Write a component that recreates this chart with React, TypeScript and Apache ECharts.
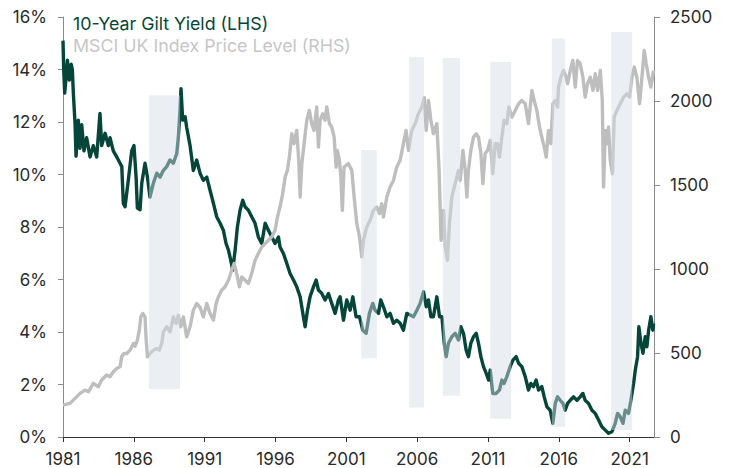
import React, { useEffect, useRef } from 'react';
import * as echarts from 'echarts';

const BASE_YEAR = 1981;
const X_MAX_YEAR = 2022.72;
const xTickYears = [1981, 1986, 1991, 1996, 2001, 2006, 2011, 2016, 2021];

const legendGilt = '10-Year Gilt Yield (LHS)';
const legendMsci = 'MSCI UK Index Price Level (RHS)';

// 10-Year Gilt Yield (%), decimal years
const giltYears = [
  1981.0, 1981.05, 1981.12, 1981.2, 1981.31, 1981.45, 1981.58, 1981.66, 1981.73, 1981.85,
  1981.92, 1982.0, 1982.08, 1982.2, 1982.32, 1982.48, 1982.67, 1982.91, 1983.14, 1983.38,
  1983.61, 1983.73, 1983.97, 1984.2, 1984.32, 1984.55, 1984.79, 1985.03, 1985.15, 1985.26,
  1985.38, 1985.61, 1985.85, 1986.01, 1986.16, 1986.25, 1986.44, 1986.56, 1986.79, 1986.96,
  1987.14, 1987.38, 1987.62, 1987.85, 1988.08, 1988.32, 1988.55, 1988.79, 1989.03, 1989.14,
  1989.26, 1989.33, 1989.45, 1989.62, 1989.73, 1989.97, 1990.2, 1990.44, 1990.68, 1990.91,
  1991.15, 1991.38, 1991.62, 1991.85, 1992.09, 1992.32, 1992.51, 1992.68, 1992.84, 1992.98,
  1993.15, 1993.31, 1993.5, 1993.69, 1993.85, 1994.09, 1994.32, 1994.56, 1994.79, 1995.03,
  1995.27, 1995.5, 1995.74, 1995.97, 1996.21, 1996.32, 1996.56, 1996.8, 1997.03, 1997.27,
  1997.5, 1997.74, 1997.97, 1998.09, 1998.26, 1998.44, 1998.68, 1998.87, 1999.03, 1999.27,
  1999.5, 1999.74, 1999.97, 2000.21, 2000.44, 2000.56, 2000.8, 2001.03, 2001.27, 2001.46,
  2001.69, 2001.93, 2002.16, 2002.4, 2002.63, 2002.87, 2003.03, 2003.27, 2003.43, 2003.62,
  2003.86, 2004.09, 2004.33, 2004.56, 2004.8, 2005.03, 2005.27, 2005.51, 2005.74, 2005.98,
  2006.21, 2006.45, 2006.64, 2006.8, 2006.97, 2007.15, 2007.39, 2007.58, 2007.75, 2007.91,
  2008.05, 2008.21, 2008.45, 2008.68, 2008.92, 2009.09, 2009.27, 2009.46, 2009.62, 2009.79,
  2009.98, 2010.17, 2010.33, 2010.5, 2010.68, 2010.87, 2011.04, 2011.16, 2011.34, 2011.58,
  2011.81, 2011.98, 2012.14, 2012.33, 2012.57, 2012.76, 2012.99, 2013.16, 2013.39, 2013.63,
  2013.86, 2014.03, 2014.21, 2014.4, 2014.57, 2014.8, 2014.97, 2015.16, 2015.39, 2015.58,
  2015.75, 2015.91, 2016.1, 2016.29, 2016.45, 2016.62, 2016.81, 2017.04, 2017.28, 2017.51,
  2017.7, 2017.86, 2018.1, 2018.34, 2018.57, 2018.81, 2019.04, 2019.28, 2019.51, 2019.75,
  2019.98, 2020.15, 2020.34, 2020.53, 2020.69, 2020.92, 2021.09, 2021.28, 2021.4, 2021.56,
  2021.65, 2021.8, 2021.94, 2022.1, 2022.22, 2022.34, 2022.5, 2022.64, 2022.69,
];
const giltYield = [
  15.1, 14.0, 13.1, 13.6, 14.35, 13.6, 14.2, 14.0, 13.1, 11.95,
  10.7, 11.3, 12.07, 11.0, 11.9, 10.9, 11.4, 10.67, 11.1, 10.67,
  12.33, 11.1, 11.57, 11.1, 11.4, 10.9, 10.67, 10.43, 10.3, 8.9,
  8.77, 9.78, 10.9, 11.1, 9.9, 8.72, 8.66, 9.67, 10.43, 9.9,
  9.14, 9.67, 10.05, 9.9, 10.15, 10.3, 10.55, 10.43, 10.8, 11.4,
  12.45, 13.27, 12.07, 12.2, 11.8, 11.1, 10.15, 10.55, 10.04, 9.78,
  9.9, 9.4, 8.9, 8.39, 8.14, 7.88, 7.37, 7.12, 6.74, 6.36,
  7.12, 8.0, 8.64, 9.02, 8.77, 8.64, 8.39, 8.14, 7.62, 7.37,
  8.14, 7.88, 7.62, 7.37, 7.62, 7.24, 6.99, 6.61, 6.23, 5.98,
  5.72, 5.34, 4.58, 4.2, 4.83, 5.34, 5.72, 5.98, 5.6, 5.47,
  5.22, 5.47, 5.09, 4.71, 5.22, 5.34, 4.45, 5.22, 4.83, 5.34,
  4.58, 4.58, 4.07, 3.95, 4.71, 5.09, 4.83, 4.71, 5.22, 4.96,
  4.58, 4.71, 4.33, 4.45, 4.33, 4.07, 4.71, 4.65, 4.58, 4.83,
  5.09, 5.53, 4.96, 5.22, 4.58, 4.58, 5.34, 4.58, 4.58, 3.57,
  3.06, 3.57, 3.82, 3.95, 3.7, 4.2, 3.95, 3.31, 3.06, 3.57,
  3.82, 3.95, 3.57, 3.06, 2.68, 2.43, 2.17, 2.55, 1.66, 1.66,
  1.79, 2.17, 2.04, 2.3, 2.68, 2.93, 3.06, 2.81, 2.68, 2.3,
  1.79, 2.04, 1.92, 2.17, 1.79, 1.92, 1.53, 1.15, 1.02, 0.52,
  1.28, 1.53, 1.4, 1.28, 1.02, 1.28, 1.4, 1.53, 1.4, 1.53,
  1.66, 1.4, 1.28, 1.02, 0.9, 0.65, 0.39, 0.26, 0.14, 0.2,
  0.52, 0.9, 0.77, 0.52, 1.02, 0.9, 1.4, 2.04, 2.55, 3.06,
  4.2, 3.57, 3.19, 3.82, 3.44, 4.07, 4.58, 4.07, 4.33,
];

// MSCI UK Index price level, decimal years
const msciYears = [
  1981.0, 1981.49, 1981.85, 1982.2, 1982.55, 1982.79, 1983.14, 1983.5, 1983.73, 1984.08,
  1984.32, 1984.55, 1984.79, 1985.03, 1985.14, 1985.31, 1985.5, 1985.73, 1985.97, 1986.08,
  1986.25, 1986.39, 1986.49, 1986.63, 1986.79, 1986.86, 1986.96, 1987.14, 1987.38, 1987.61,
  1987.8, 1987.97, 1988.09, 1988.32, 1988.56, 1988.79, 1988.98, 1989.14, 1989.31, 1989.5,
  1989.73, 1989.97, 1990.2, 1990.44, 1990.68, 1990.91, 1991.15, 1991.38, 1991.62, 1991.81,
  1991.97, 1992.2, 1992.44, 1992.68, 1992.91, 1993.08, 1993.26, 1993.45, 1993.62, 1993.85,
  1994.09, 1994.32, 1994.56, 1994.79, 1995.03, 1995.27, 1995.5, 1995.74, 1995.97, 1996.14,
  1996.32, 1996.51, 1996.68, 1996.84, 1996.98, 1997.15, 1997.31, 1997.5, 1997.64, 1997.74,
  1997.86, 1998.02, 1998.21, 1998.39, 1998.56, 1998.72, 1998.91, 1999.03, 1999.15, 1999.33,
  1999.5, 1999.62, 1999.81, 1999.97, 2000.14, 2000.28, 2000.37, 2000.51, 2000.62, 2000.72,
  2000.84, 2001.15, 2001.39, 2001.55, 2001.74, 2001.93, 2002.09, 2002.21, 2002.44, 2002.68,
  2002.91, 2003.15, 2003.34, 2003.5, 2003.62, 2003.86, 2004.09, 2004.33, 2004.56, 2004.8,
  2005.03, 2005.22, 2005.39, 2005.62, 2005.86, 2006.09, 2006.33, 2006.5, 2006.64, 2006.8,
  2006.97, 2007.15, 2007.39, 2007.55, 2007.69, 2007.86, 2007.98, 2008.14, 2008.28, 2008.45,
  2008.68, 2008.92, 2009.04, 2009.23, 2009.39, 2009.51, 2009.62, 2009.79, 2009.98, 2010.17,
  2010.33, 2010.5, 2010.64, 2010.8, 2010.97, 2011.16, 2011.34, 2011.51, 2011.67, 2011.81,
  2011.98, 2012.14, 2012.33, 2012.47, 2012.69, 2012.92, 2013.16, 2013.39, 2013.63, 2013.86,
  2014.1, 2014.26, 2014.45, 2014.64, 2014.8, 2014.97, 2015.11, 2015.27, 2015.44, 2015.58,
  2015.75, 2015.91, 2015.98, 2016.15, 2016.33, 2016.52, 2016.62, 2016.81, 2016.99, 2017.16,
  2017.32, 2017.51, 2017.7, 2017.86, 2018.03, 2018.22, 2018.41, 2018.57, 2018.74, 2018.93,
  2019.07, 2019.16, 2019.28, 2019.4, 2019.51, 2019.63, 2019.79, 2019.91, 2020.1, 2020.34,
  2020.57, 2020.81, 2021.0, 2021.16, 2021.33, 2021.51, 2021.7, 2021.87, 2022.03, 2022.17,
  2022.34, 2022.5, 2022.69,
];
const msciLevel = [
  190, 200, 230, 260, 279, 269, 319, 299, 339, 369,
  359, 388, 408, 418, 477, 497, 497, 517, 557, 540,
  577, 636, 715, 735, 715, 596, 477, 497, 517, 527,
  517, 557, 626, 656, 626, 715, 676, 725, 656, 715,
  596, 656, 755, 795, 770, 715, 795, 735, 696, 795,
  834, 874, 894, 933, 993, 1033, 973, 894, 953, 933,
  914, 973, 1052, 1092, 1131, 1151, 1171, 1191, 1231, 1310,
  1369, 1449, 1547, 1587, 1666, 1805, 1746, 1825, 1647, 1429,
  1627, 1746, 1885, 1944, 1865, 1825, 1964, 1726, 1885, 1924,
  1885, 1964, 1865, 1845, 1785, 1607, 1706, 1647, 1547, 1349,
  1607, 1627, 1587, 1429, 1270, 1191, 1072, 1171, 1250, 1290,
  1349, 1369, 1330, 1389, 1310, 1429, 1488, 1527, 1607, 1647,
  1746, 1825, 1706, 1825, 1865, 1924, 1964, 2020, 1825, 2003,
  1885, 1805, 1865, 1587, 1171, 1349, 1131, 1052, 1270, 1429,
  1508, 1587, 1527, 1706, 1587, 1429, 1587, 1706, 1785, 1805,
  1785, 1687, 1508, 1687, 1706, 1765, 1567, 1746, 1746, 1666,
  1785, 1885, 1865, 1964, 1904, 1944, 1984, 2003, 1984, 1865,
  2063, 2003, 1944, 1845, 1785, 1726, 1666, 1825, 1746, 1984,
  2003, 1964, 2083, 2142, 2182, 2142, 2103, 2182, 2241, 2083,
  2241, 2222, 2142, 2023, 2103, 2142, 2063, 2162, 2063, 2182,
  2003, 1488, 1825, 1746, 1845, 1647, 1567, 1904, 1944, 1984,
  2023, 2043, 2023, 2142, 2202, 2142, 1984, 2142, 2301, 2222,
  2142, 2083, 2182,
];

// Shaded periods: start / end year, low / high on the left (%) scale
const bandStart = [1987.07, 2002.05, 2005.44, 2007.81, 2011.16, 2015.51, 2019.7];
const bandEnd = [1989.26, 2003.15, 2006.49, 2009.04, 2012.64, 2016.45, 2021.18];
const bandLow = [1.83, 3.0, 1.12, 1.57, 0.7, 0.39, 0.27];
const bandHigh = [13.02, 10.93, 14.48, 14.44, 14.29, 15.18, 15.43];

const GREEN = '#06463a';
const GREY = '#bdbebd';
const FONT = 'Inter';

export default function App() {
  const ref = useRef<HTMLDivElement>(null);

  useEffect(() => {
    const chart = echarts.init(ref.current as HTMLDivElement, null, { renderer: 'svg' });
    const xTicks = xTickYears.map((y) => y - BASE_YEAR);
    const axisLabelStyle = { color: '#2a2a2a', fontSize: 17, fontFamily: FONT };

    chart.setOption({
      animation: false,
      textStyle: { fontFamily: FONT },
      grid: { left: 63, right: 76, top: 17, bottom: 31, containLabel: false },
      xAxis: {
        type: 'value',
        min: 0,
        max: X_MAX_YEAR - BASE_YEAR,
        interval: 5,
        axisLine: { show: true, lineStyle: { color: '#333', width: 1 } },
        axisTick: { show: true, length: 5, customValues: xTicks, lineStyle: { color: '#333' } },
        axisLabel: {
          ...axisLabelStyle,
          margin: 13,
          customValues: xTicks,
          formatter: (v: number) => String(Math.round(v + BASE_YEAR)),
        },
        splitLine: { show: false },
      },
      yAxis: [
        {
          type: 'value',
          position: 'left',
          min: 0,
          max: 16,
          interval: 2,
          axisLine: { show: true, lineStyle: { color: '#8a8a8a', width: 1 } },
          axisTick: { show: true, length: 5, lineStyle: { color: '#8a8a8a' } },
          axisLabel: { ...axisLabelStyle, margin: 16, formatter: (v: number) => v + '%' },
          splitLine: { show: false },
        },
        {
          type: 'value',
          position: 'right',
          min: 0,
          max: 2500,
          interval: 500,
          axisLine: { show: true, lineStyle: { color: '#8a8a8a', width: 1 } },
          axisTick: { show: true, length: 6, lineStyle: { color: '#8a8a8a' } },
          axisLabel: { ...axisLabelStyle, margin: 16, formatter: (v: number) => String(v) },
          splitLine: { show: false },
        },
      ],
      series: [
        {
          name: legendGilt,
          type: 'line',
          yAxisIndex: 0,
          z: 2,
          symbol: 'none',
          lineStyle: { color: GREEN, width: 3.4, join: 'round' },
          data: giltYears.map((y, i) => [y - BASE_YEAR, giltYield[i]]),
        },
        {
          name: legendMsci,
          type: 'line',
          yAxisIndex: 1,
          z: 2,
          symbol: 'none',
          lineStyle: { color: GREY, width: 3.4, join: 'round' },
          data: msciYears.map((y, i) => [y - BASE_YEAR, msciLevel[i]]),
        },
        {
          type: 'custom',
          yAxisIndex: 0,
          z: 3,
          silent: true,
          encode: { x: [0, 1], y: [2, 3] },
          data: bandStart.map((s, i) => [s - BASE_YEAR, bandEnd[i] - BASE_YEAR, bandLow[i], bandHigh[i]]),
          renderItem: (params: any, api: any) => {
            const p1 = api.coord([api.value(0), api.value(3)]);
            const p2 = api.coord([api.value(1), api.value(2)]);
            return {
              type: 'rect',
              shape: { x: p1[0], y: p1[1], width: p2[0] - p1[0], height: p2[1] - p1[1] },
              style: { fill: 'rgba(214,220,228,0.48)' },
            };
          },
        },
      ],
      graphic: [
        {
          type: 'text',
          x: 73,
          y: 23,
          style: {
            text: legendGilt,
            fill: GREEN,
            fontSize: 17.8,
            fontFamily: FONT,
            textVerticalAlign: 'middle',
            verticalAlign: 'middle',
          },
        },
        {
          type: 'text',
          x: 73,
          y: 45,
          style: {
            text: legendMsci,
            fill: '#c6c6c6',
            fontSize: 17.8,
            fontFamily: FONT,
            textVerticalAlign: 'middle',
            verticalAlign: 'middle',
          },
        },
      ],
    });

    return () => chart.dispose();
  }, []);

  return (
    <div
      ref={ref}
      style={{ position: 'fixed', left: 0, top: 0, width: 730, height: 468, background: '#fff' }}
    />
  );
}
